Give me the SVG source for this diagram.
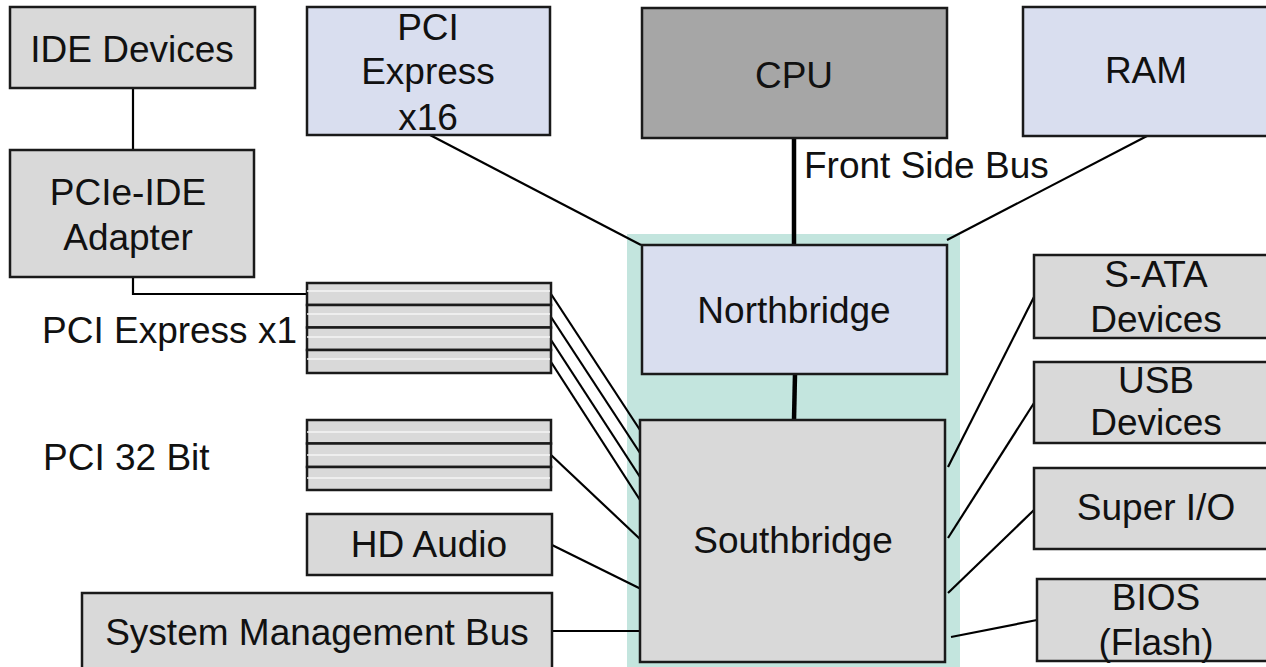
<svg xmlns="http://www.w3.org/2000/svg" width="1266" height="667" viewBox="0 0 1266 667">
  <style>
    .box { stroke: #1a1a1a; stroke-width: 2.5; }
    .grey { fill: #d9d9d9; }
    .blue { fill: #d9deef; }
    .dark { fill: #a6a6a6; }
    .lbl { font-family: "Liberation Sans", Arial, sans-serif; font-size: 37px; fill: #111; }
    .mid { text-anchor: middle; }
    .wire { stroke: #000; stroke-width: 2.2; fill: none; }
    .bus { stroke: #000; stroke-width: 4.5; fill: none; }
    .slot { fill: #d9d9d9; stroke: #1a1a1a; stroke-width: 2.5; }
    .shine { stroke: #f4f4f4; stroke-width: 1.5; }
  </style>

  <rect width="1266" height="667" fill="#ffffff"/>

  <!-- chipset area -->
  <rect id="chipset" x="627" y="234" width="333" height="440" fill="#c3e5de"/>

  <!-- connectors -->
  <g id="connectors">
    <polyline class="wire" points="133,88 133,150"/>
    <polyline class="wire" points="133,277 133,294 307,294"/>
    <line class="wire" x1="430" y1="135" x2="641" y2="245"/>
    <line class="bus" x1="794" y1="138" x2="794" y2="245"/>
    <line class="wire" x1="1147" y1="136" x2="947" y2="240"/>
    <line class="bus" x1="795" y1="374" x2="794" y2="420"/>
    <line class="wire" x1="551" y1="294" x2="640" y2="430"/>
    <line class="wire" x1="551" y1="317" x2="640" y2="453"/>
    <line class="wire" x1="551" y1="340" x2="640" y2="477"/>
    <line class="wire" x1="551" y1="362" x2="640" y2="500"/>
    <line class="wire" x1="551" y1="455" x2="640" y2="539"/>
    <line class="wire" x1="552" y1="545" x2="641" y2="589"/>
    <line class="wire" x1="552" y1="631" x2="641" y2="631"/>
    <line class="wire" x1="1034" y1="297" x2="948" y2="467"/>
    <line class="wire" x1="1034" y1="403" x2="948" y2="538"/>
    <line class="wire" x1="1034" y1="510" x2="948" y2="593"/>
    <line class="wire" x1="1037" y1="620" x2="951" y2="637"/>
  </g>

  <text class="lbl" x="804" y="178">Front Side Bus</text>

  <g id="ide-devices">
    <rect class="box grey" x="10" y="7" width="245" height="81"/>
    <text class="lbl mid" x="132" y="62">IDE Devices</text>
  </g>

  <g id="pcie-ide-adapter">
    <rect class="box grey" x="10" y="150" width="244" height="127"/>
    <text class="lbl mid" x="128" y="205">PCIe-IDE</text>
    <text class="lbl mid" x="128" y="250">Adapter</text>
  </g>

  <g id="pcie-x16">
    <rect class="box blue" x="307" y="7" width="243" height="128"/>
    <text class="lbl mid" x="428" y="40">PCI</text>
    <text class="lbl mid" x="428" y="84">Express</text>
    <text class="lbl mid" x="428" y="130">x16</text>
  </g>

  <g id="cpu">
    <rect class="box dark" x="642" y="8" width="305" height="130"/>
    <text class="lbl mid" x="794" y="88">CPU</text>
  </g>

  <g id="ram">
    <rect class="box blue" x="1023" y="7" width="260" height="129"/>
    <text class="lbl mid" x="1146" y="83">RAM</text>
  </g>

  <g id="northbridge">
    <rect class="box blue" x="642" y="245" width="305" height="129"/>
    <text class="lbl mid" x="794" y="323">Northbridge</text>
  </g>

  <g id="southbridge">
    <rect class="box grey" x="640" y="420" width="305" height="242"/>
    <text class="lbl mid" x="793" y="553">Southbridge</text>
  </g>

  <g id="pcie-x1">
    <rect class="slot" x="307" y="283" width="244" height="22"/>
    <rect class="slot" x="307" y="305" width="244" height="22.5"/>
    <rect class="slot" x="307" y="327.5" width="244" height="22.5"/>
    <rect class="slot" x="307" y="350" width="244" height="23"/>
    <line class="shine" x1="307" y1="291" x2="550" y2="291"/>
    <line class="shine" x1="307" y1="314" x2="550" y2="314"/>
    <line class="shine" x1="307" y1="337" x2="550" y2="337"/>
    <line class="shine" x1="307" y1="359" x2="550" y2="359"/>
    <text class="lbl" x="42" y="343">PCI Express x1</text>
  </g>

  <g id="pci-32bit">
    <rect class="slot" x="307" y="420" width="244" height="23.5"/>
    <rect class="slot" x="307" y="443.5" width="244" height="23.5"/>
    <rect class="slot" x="307" y="467" width="244" height="23"/>
    <line class="shine" x1="307" y1="432" x2="550" y2="432"/>
    <line class="shine" x1="307" y1="455" x2="550" y2="455"/>
    <line class="shine" x1="307" y1="478" x2="550" y2="478"/>
    <text class="lbl" x="43" y="470">PCI 32 Bit</text>
  </g>

  <g id="hd-audio">
    <rect class="box grey" x="307" y="514" width="245" height="61"/>
    <text class="lbl mid" x="429" y="557">HD Audio</text>
  </g>

  <g id="smbus">
    <rect class="box grey" x="82" y="593" width="470" height="90"/>
    <text class="lbl mid" x="317" y="645">System Management Bus</text>
  </g>

  <g id="sata">
    <rect class="box grey" x="1034" y="255" width="260" height="83"/>
    <text class="lbl mid" x="1156" y="287">S-ATA</text>
    <text class="lbl mid" x="1156" y="332">Devices</text>
  </g>

  <g id="usb">
    <rect class="box grey" x="1034" y="362" width="260" height="81"/>
    <text class="lbl mid" x="1156" y="393">USB</text>
    <text class="lbl mid" x="1156" y="435">Devices</text>
  </g>

  <g id="super-io">
    <rect class="box grey" x="1034" y="468" width="260" height="81"/>
    <text class="lbl mid" x="1156" y="520">Super I/O</text>
  </g>

  <g id="bios">
    <rect class="box grey" x="1037" y="579" width="260" height="82"/>
    <text class="lbl mid" x="1156" y="610">BIOS</text>
    <text class="lbl mid" x="1156" y="655">(Flash)</text>
  </g>
</svg>
